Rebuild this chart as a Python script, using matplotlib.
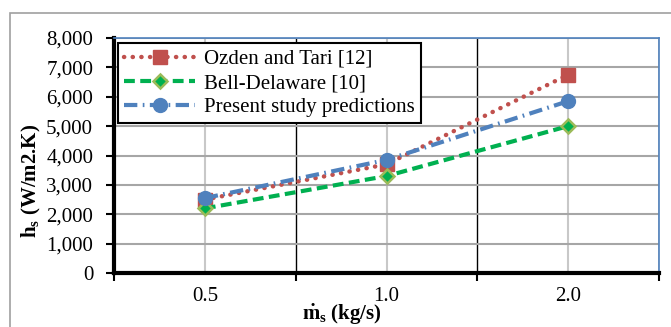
import matplotlib
matplotlib.use('Agg')
import matplotlib.pyplot as plt
from matplotlib.patches import Rectangle
from matplotlib.ticker import FuncFormatter
import numpy as np

plt.rcParams['font.family'] = ['Liberation Serif', 'DejaVu Serif']
plt.rcParams['mathtext.fontset'] = 'custom'
plt.rcParams['mathtext.rm'] = 'Liberation Serif'
plt.rcParams['mathtext.bf'] = 'Liberation Serif:bold'
plt.rcParams['mathtext.it'] = 'Liberation Serif:italic'

# 质量流量工况与换热系数
mass_flow = ['0.5', '1.0', '2.0']
ozden_tari = [2500, 3700, 6750]
bell_delaware = [2200, 3300, 5000]
present_study = [2550, 3850, 5850]
y_ticks = list(range(0, 8001, 1000))

RED = '#C0504D'
GREEN = '#00B050'
OLIVE = '#9BBB59'
BLUE = '#4F81BD'
GRID = '#A6A6A6'
FS = 15

W, H = 671, 327
fig = plt.figure(figsize=(W / 100, H / 100), dpi=100)

# 外框
fig.patches.append(Rectangle((10 / W, -0.2), 2, 1 - 13 / H + 0.2, transform=fig.transFigure,
                             fill=False, edgecolor='#A0A0A0', linewidth=1.2))

ax = fig.add_axes([114 / W, 1 - 273 / H, (659 - 114) / W, (273 - 38) / H])
x = np.arange(len(mass_flow))

ax.plot(x, ozden_tari, color=RED, linewidth=3.2, linestyle=(0, (0.05, 1.9)),
        dash_capstyle='round', marker='s', markersize=10, markerfacecolor=RED,
        markeredgecolor=RED, label='Ozden and Tari [12]', zorder=3)
ax.plot(x, bell_delaware, color=GREEN, linewidth=3, linestyle=(0, (2.6, 1.3)),
        marker='D', markersize=7.5, markerfacecolor=GREEN, markeredgecolor=OLIVE,
        markeredgewidth=1.8, label='Bell-Delaware [10]', zorder=3)
ax.plot(x, present_study, color=BLUE, linewidth=3, linestyle=(0, (3.2, 1.3, 0.4, 1.3)),
        marker='o', markersize=10, markerfacecolor=BLUE, markeredgecolor=BLUE,
        label='Present study predictions', zorder=4)

ax.set_xlim(-0.5, len(mass_flow) - 0.5)
ax.set_ylim(0, 8000)
ax.set_yticks(y_ticks)
ax.yaxis.set_major_formatter(FuncFormatter(lambda v, p: f'{int(v):,}'))

# 类别边界为主刻度，类别中心为次刻度（带标签）
ax.set_xticks(np.arange(-0.5, len(mass_flow)), labels=[''] * (len(mass_flow) + 1))
ax.set_xticks(x, labels=mass_flow, minor=True)
ax.tick_params(axis='x', which='major', length=6, width=1.5, direction='out', color='black')
ax.tick_params(axis='x', which='minor', length=0, pad=10, labelsize=FS)
ax.tick_params(axis='y', length=6, width=1.5, direction='out', labelsize=FS, pad=9)

ax.grid(axis='y', color=GRID, linewidth=1.5, zorder=0)
ax.grid(axis='x', which='minor', color='#C8C8C8', linewidth=1.5, zorder=0)
ax.grid(axis='x', which='major', color='black', linewidth=1.0, zorder=0)
ax.set_axisbelow(True)

for side in ['left', 'bottom']:
    ax.spines[side].set_linewidth(3)
    ax.spines[side].set_color('black')
for side in ['top', 'right']:
    ax.spines[side].set_linewidth(1.2)
    ax.spines[side].set_color(BLUE)

leg = ax.legend(loc='upper left', bbox_to_anchor=(4 / 545, 1 - 5 / 235), fontsize=FS,
                frameon=True, fancybox=False, framealpha=1, edgecolor='black',
                handlelength=3.4, handletextpad=0.45, borderpad=0.3, labelspacing=0.22,
                borderaxespad=0)
leg.get_frame().set_linewidth(1.5)

fig.text(342 / W, 1 - 315 / H, r'$\mathbf{\dot{m}_s}$ (kg/s)', fontsize=FS,
         fontweight='bold', ha='center', va='center')
fig.text(31 / W, 1 - 181 / H, r'$\mathbf{h_s}$ (W/m2.K)', fontsize=FS,
         fontweight='bold', ha='center', va='center', rotation=90)

fig.savefig('out.png', dpi=100)
